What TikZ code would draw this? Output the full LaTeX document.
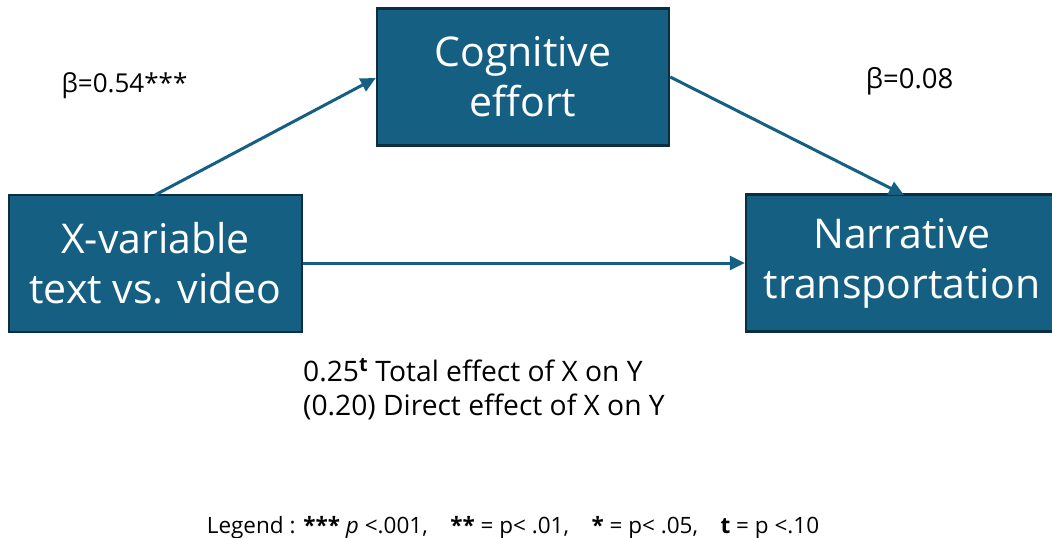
\documentclass[tikz,border=0pt]{standalone}
\usepackage{fontspec}
\setmainfont{Open Sans}
\usepackage{tikz}
\usetikzlibrary{arrows.meta}
\definecolor{boxfill}{HTML}{156082}
\definecolor{boxline}{HTML}{0B2F40}
\tikzset{varbox/.style={draw=boxline, line width=2.5pt, fill=boxfill, text=white,
		inner sep=0pt, minimum height=137pt, align=center, font=\fontsize{41}{50}\selectfont}}
\tikzset{path/.style={draw=boxfill, line width=3pt, -{Triangle[length=15pt,width=14pt]}}}

\begin{document}
\begin{tikzpicture}[x=1pt, y=-1pt]
	% Page
	\useasboundingbox (0,0) rectangle (1052,538);
	\clip (0,0) rectangle (1052,538);

	% Variables
	\node[varbox, minimum width=293pt] (xvar) at (155.5,263.5) {X-variable\\text vs. video};
	\node[varbox, minimum width=292pt] (cog) at (523,77) {Cognitive\\effort};
	\node[varbox, minimum width=312pt] (narr) at (902,263) {Narrative\\transportation};

	\coordinate (xtop) at (155,195);
	\coordinate (narrtop) at (904,195);

	% Paths
	\draw[path] (xtop) -- (cog.west |- 0,78);
	\draw[path] (cog.east |- 0,77) -- (narrtop);
	\draw[path] (xvar.east |- 0,263) -- (narr.west |- 0,263);

	% Labels
	\node[font=\fontsize{26}{30}\selectfont, inner sep=0pt, anchor=base] (bxm) at (124.5,92) {β=0.54***};
	\node[font=\fontsize{27.5}{30}\selectfont, inner sep=0pt, anchor=base] (bmy) at (909.5,88) {β=0.08};
	\node[font=\fontsize{28.2}{34}\selectfont, inner sep=0pt, align=left, anchor=base west] (effects) at (303,415)
		{0.25\textsuperscript{\textbf{t}} Total effect of X on Y\\(0.20) Direct effect of X on Y};
	\node[font=\fontsize{22.5}{26}\selectfont, inner sep=0pt, anchor=base] (legend) at (513,533)
		{Legend : \textbf{***} \textit{p} <.001,\quad \textbf{**} = p< .01,\quad \textbf{*} = p< .05,\quad \textbf{t} = p <.10};
\end{tikzpicture}
\end{document}
